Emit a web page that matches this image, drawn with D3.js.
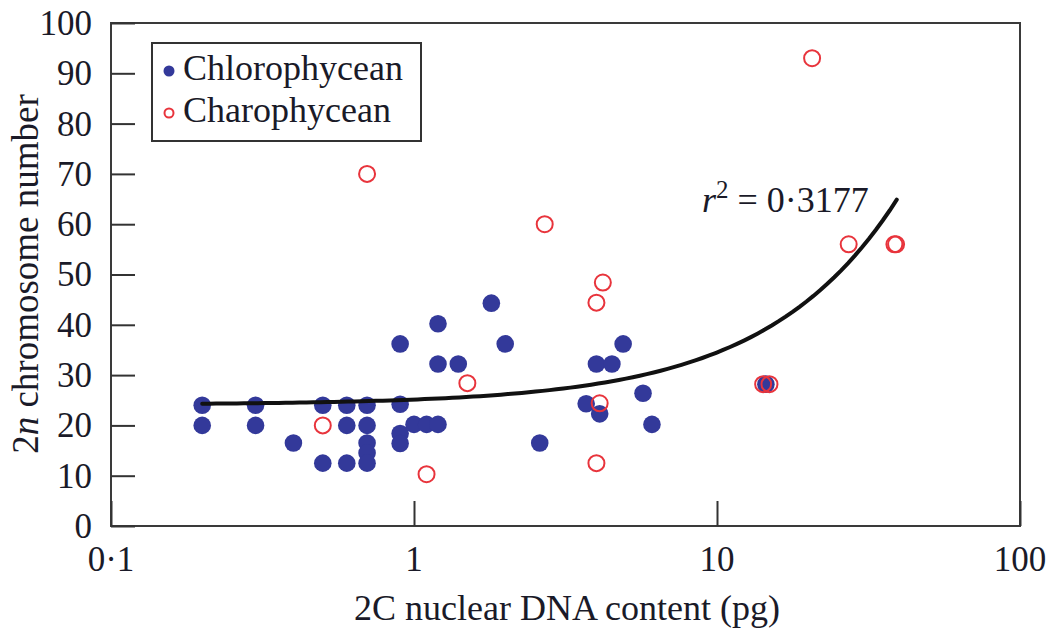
<!DOCTYPE html>
<html>
<head>
<meta charset="utf-8">
<script src="https://cdn.jsdelivr.net/npm/d3@7/dist/d3.min.js"></script>
<style>
  html, body { margin: 0; padding: 0; background: #fff; }
  svg text { font-family: "Liberation Serif", "DejaVu Serif", serif; fill: #1a1a28; }
</style>
</head>
<body>
<div id="chart"></div>
<script>
// chlorophycean algae (filled blue dots)
var chloroDna = [0.2, 0.2, 0.3, 0.3, 0.4, 0.5, 0.5, 0.6, 0.6, 0.6, 0.7, 0.7, 0.7, 0.7, 0.7,
  0.9, 0.9, 0.9, 0.9, 1.0, 1.1, 1.2, 1.2, 1.2, 1.4, 1.8, 2.0, 2.6, 3.7, 4.0, 4.1, 4.5, 4.9,
  5.7, 6.1, 14.5];
var chloroChrom = [24, 20, 24, 20, 16.5, 24, 12.5, 24, 20, 12.5, 24, 20, 16.5, 14.5, 12.5,
  36.2, 24.2, 18.4, 16.4, 20.2, 20.2, 20.2, 40.2, 32.2, 32.2, 44.3, 36.2, 16.5, 24.3, 32.2, 22.3, 32.2, 36.2,
  26.4, 20.2, 28.2];

// charophycean algae (open red circles)
var charoDna = [0.5, 0.7, 1.1, 1.5, 2.7, 4.0, 4.2, 4.0, 4.1, 14.2, 14.9, 20.6, 27.2, 38.5, 39];
var charoChrom = [20, 70, 10.3, 28.4, 60, 44.4, 48.4, 12.5, 24.4, 28.2, 28.2, 93, 56, 56, 56];

// fitted trend line (linear fit drawn on log x axis)
var fitIntercept = 24.1;
var fitSlope = 1.04;
var fitRange = [0.2, 39.2];
var fitLabel = '0·3177';

var xTicks = [0.1, 1, 10, 100];
var xTickLabels = ['0·1', '1', '10', '100'];
var yTicks = [0, 10, 20, 30, 40, 50, 60, 70, 80, 90, 100];

var legendNames = ['Chlorophycean', 'Charophycean'];

var blue = '#33399a';
var red = '#e8343c';

var width = 1046, height = 630;
var plotLeft = 111, plotRight = 1020, plotTop = 23, plotBottom = 526;

var svg = d3.select('#chart').append('svg')
  .attr('width', width)
  .attr('height', height);

var x = d3.scaleLog().domain([0.1, 100]).range([plotLeft, plotRight]);
var y = d3.scaleLinear().domain([0, 100]).range([plotBottom, plotTop]);

// frame
svg.append('rect')
  .attr('x', plotLeft).attr('y', plotTop)
  .attr('width', plotRight - plotLeft).attr('height', plotBottom - plotTop)
  .attr('fill', 'none')
  .attr('stroke', '#3a3a3a')
  .attr('stroke-width', 2);

// y axis, ticks pointing inside
var yAxis = svg.append('g')
  .attr('transform', 'translate(' + plotLeft + ',0)')
  .call(d3.axisRight(y).tickValues(yTicks).tickSize(24).tickFormat(''));
yAxis.select('.domain').remove();
yAxis.selectAll('line').attr('stroke', '#333').attr('stroke-width', 2);

svg.append('g').selectAll('text')
  .data(yTicks)
  .enter().append('text')
  .attr('x', 92)
  .attr('y', function (d) { return y(d); })
  .attr('dy', '0.34em')
  .attr('text-anchor', 'end')
  .style('font-size', '35px')
  .text(function (d) { return d; });

// x axis, ticks pointing inside
var xAxis = svg.append('g')
  .attr('transform', 'translate(0,' + plotBottom + ')')
  .call(d3.axisTop(x).tickValues(xTicks).tickSize(25).tickFormat(''));
xAxis.select('.domain').remove();
xAxis.selectAll('line').attr('stroke', '#333').attr('stroke-width', 2);

svg.append('g').selectAll('text')
  .data(xTicks)
  .enter().append('text')
  .attr('x', function (d) { return x(d); })
  .attr('y', 571)
  .attr('text-anchor', 'middle')
  .style('font-size', '35px')
  .text(function (d, i) { return xTickLabels[i]; });

// axis titles
svg.append('text')
  .attr('x', 567)
  .attr('y', 620)
  .attr('text-anchor', 'middle')
  .style('font-size', '36px')
  .text('2C nuclear DNA content (pg)');

var yTitle = svg.append('text')
  .attr('transform', 'translate(38,274) rotate(-90)')
  .attr('text-anchor', 'middle')
  .style('font-size', '37px');
yTitle.append('tspan').text('2');
yTitle.append('tspan').style('font-style', 'italic').text('n');
yTitle.append('tspan').text(' chromosome number');

// points
var chloro = d3.range(chloroDna.length).map(function (i) { return [chloroDna[i], chloroChrom[i]]; });
var charo = d3.range(charoDna.length).map(function (i) { return [charoDna[i], charoChrom[i]]; });

svg.append('g').selectAll('circle')
  .data(chloro)
  .enter().append('circle')
  .attr('cx', function (d) { return x(d[0]); })
  .attr('cy', function (d) { return y(d[1]); })
  .attr('r', 8.8)
  .attr('fill', blue);

// trend line
var fitX = d3.range(0, 101).map(function (i) {
  return Math.exp(Math.log(fitRange[0]) + i / 100 * (Math.log(fitRange[1]) - Math.log(fitRange[0])));
});
svg.append('path')
  .datum(fitX)
  .attr('fill', 'none')
  .attr('stroke', '#111')
  .attr('stroke-width', 4)
  .attr('stroke-linecap', 'round')
  .attr('d', d3.line()
    .x(function (d) { return x(d); })
    .y(function (d) { return y(fitIntercept + fitSlope * d); }));

svg.append('g').selectAll('circle')
  .data(charo)
  .enter().append('circle')
  .attr('cx', function (d) { return x(d[0]); })
  .attr('cy', function (d) { return y(d[1]); })
  .attr('r', 8)
  .attr('fill', 'none')
  .attr('stroke', red)
  .attr('stroke-width', 2);

// r squared label
var rLabel = svg.append('text')
  .attr('x', 702)
  .attr('y', 212)
  .style('font-size', '36px');
rLabel.append('tspan').style('font-style', 'italic').text('r');
rLabel.append('tspan').attr('dy', -14).style('font-size', '25px').text('2');
rLabel.append('tspan').attr('dy', 14).text(' = ' + fitLabel);

// legend
var legend = svg.append('g');
legend.append('rect')
  .attr('x', 152).attr('y', 43)
  .attr('width', 269).attr('height', 98)
  .attr('fill', '#fff')
  .attr('stroke', '#333')
  .attr('stroke-width', 2);

legend.append('circle')
  .attr('cx', 169).attr('cy', 71).attr('r', 5.5)
  .attr('fill', blue);
legend.append('circle')
  .attr('cx', 169).attr('cy', 113).attr('r', 4.5)
  .attr('fill', 'none').attr('stroke', red).attr('stroke-width', 2);

legend.selectAll('text')
  .data(legendNames)
  .enter().append('text')
  .attr('x', 183)
  .attr('y', function (d, i) { return 80 + i * 42; })
  .style('font-size', '36px')
  .text(function (d) { return d; });
</script>
</body>
</html>
